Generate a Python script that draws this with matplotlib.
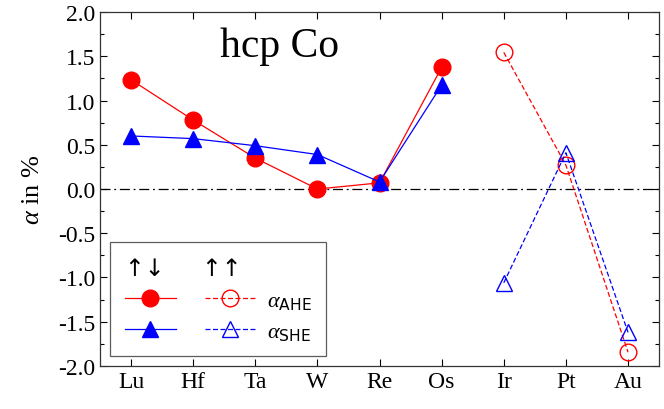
import matplotlib
matplotlib.use("Agg")
import matplotlib.pyplot as plt
from matplotlib.ticker import MultipleLocator

plt.rcParams['font.family'] = 'Liberation Serif'
plt.rcParams['mathtext.fontset'] = 'custom'
plt.rcParams['mathtext.rm'] = 'Liberation Serif:italic'
plt.rcParams['mathtext.it'] = 'Liberation Serif:italic'
plt.rcParams['mathtext.sf'] = 'DejaVu Sans'
plt.rcParams['axes.unicode_minus'] = False

elements = ['Lu', 'Hf', 'Ta', 'W', 'Re', 'Os', 'Ir', 'Pt', 'Au']
x_ap = [0, 1, 2, 3, 4, 5]  # antiparallel (filled)
x_p = [6, 7, 8]            # parallel (open)

ahe_ap = [1.235, 0.78, 0.35, 0.0, 0.07, 1.375]
she_ap = [0.60, 0.57, 0.49, 0.39, 0.08, 1.175]
ahe_p = [1.545, 0.27, -1.845]
she_p = [-1.06, 0.41, -1.62]

fig = plt.figure(figsize=(6.64, 4.10), dpi=100)
ax = fig.add_axes([0.1506, 0.105, 0.842, 0.863])

ax.axhline(0, color='black', lw=0.9, ls=(0, (8, 3, 1.5, 3)), zorder=1)

l1, = ax.plot(x_ap, ahe_ap, '-o', color='red', lw=0.9, ms=12, zorder=3)
l2, = ax.plot(x_ap, she_ap, '-^', color='blue', lw=0.9, ms=12, zorder=3)
l3, = ax.plot(x_p, ahe_p, 'o', ls=(0, (4, 2)), color='red', lw=0.9, ms=12,
              mfc='none', mew=1.0, zorder=3)
l4, = ax.plot(x_p, she_p, '^', ls=(0, (4, 2)), color='blue', lw=0.9, ms=12,
              mfc='none', mew=1.0, zorder=3)

ax.set_xlim(-0.5, 8.5)
ax.set_ylim(-2.0, 2.0)
ax.set_xticks(range(len(elements)))
ax.set_xticklabels(elements)
ax.yaxis.set_major_locator(MultipleLocator(0.5))
ax.yaxis.set_minor_locator(MultipleLocator(0.25))
ax.yaxis.set_major_formatter(matplotlib.ticker.FormatStrFormatter('%.1f'))
ax.tick_params(direction='in', labelsize=17, top=True, right=True, length=5, width=0.8)
ax.tick_params(which='minor', direction='in', right=True, length=3, width=0.8)
for s in ax.spines.values():
    s.set_linewidth(0.9)
    s.set_color('#333333')

ax.set_ylabel(r'$\alpha$ in %', fontsize=19, labelpad=10)
ax.text(0.322, 0.905, 'hcp Co', transform=ax.transAxes, fontsize=30,
        ha='center', va='center')

leg = ax.legend([l1, l2, l3, l4], ['', '', r'$\alpha_{\mathsf{AHE}}$', r'$\alpha_{\mathsf{SHE}}$'],
                ncol=2, loc='lower left', bbox_to_anchor=(0.018, 0.028), borderaxespad=0,
                fontsize=16, handlelength=2.3, handletextpad=0.5, columnspacing=0.8,
                frameon=True, fancybox=False, borderpad=0.65, labelspacing=0.45,
                title='↑↓     ↑↑', title_fontproperties={'family': 'DejaVu Sans', 'size': 17},
                alignment='left')
leg.get_frame().set_edgecolor('#333333')
leg.get_frame().set_linewidth(0.9)

fig.savefig('out.png', dpi=100)
